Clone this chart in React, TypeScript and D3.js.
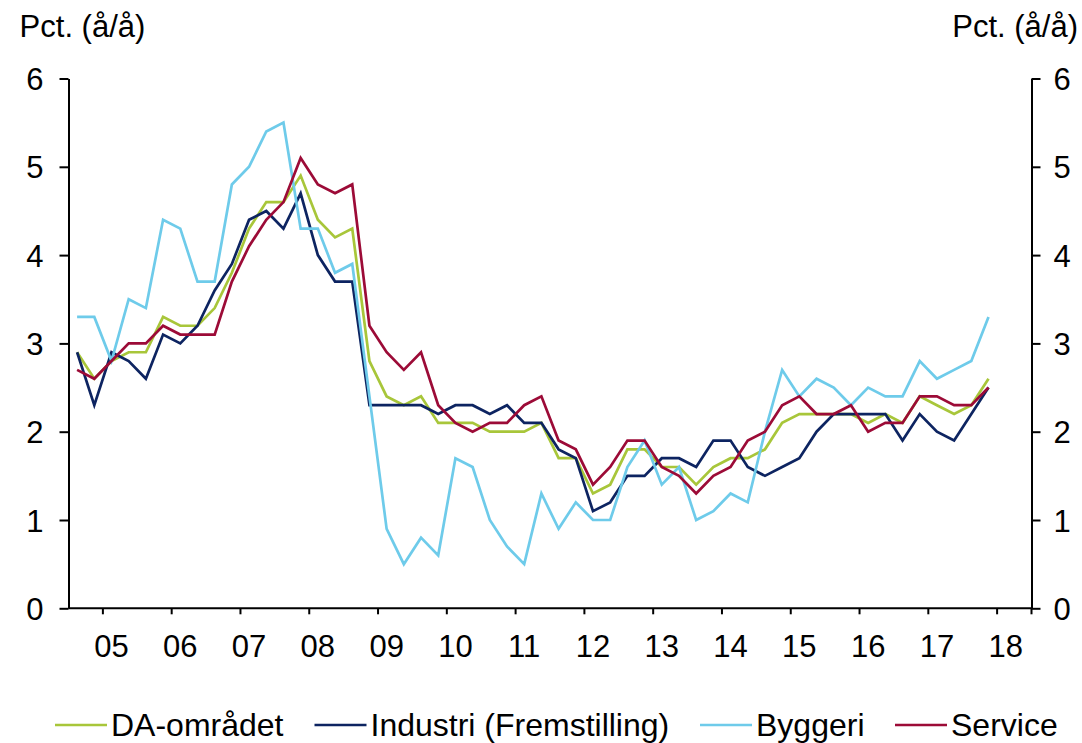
import React, { useEffect, useRef } from "react";
import * as d3 from "d3";

// kvartaler 2004K3 - 2018K2 (akse), data til 2017K4
const firstYear = 2004;
const firstQuarter = 3;
const quarterCount = 56;
const quarters: string[] = [];
for (let i = 0; i < quarterCount; i++) {
  const q = ((firstQuarter - 1 + i) % 4) + 1;
  const yr = firstYear + Math.floor((firstQuarter - 1 + i) / 4);
  quarters.push(`${yr}K${q}`);
}

const yearLabels = ["05", "06", "07", "08", "09", "10", "11", "12", "13", "14", "15", "16", "17", "18"];
const yTicks = [0, 1, 2, 3, 4, 5, 6];

const daOmraadet = [
  2.9, 2.6, 2.8, 2.9, 2.9, 3.3, 3.2, 3.2, 3.4, 3.8, 4.3, 4.6, 4.6, 4.9, 4.4, 4.2, 4.3, 2.8,
  2.4, 2.3, 2.4, 2.1, 2.1, 2.1, 2.0, 2.0, 2.0, 2.1, 1.7, 1.7, 1.3, 1.4, 1.8, 1.8, 1.6, 1.6,
  1.4, 1.6, 1.7, 1.7, 1.8, 2.1, 2.2, 2.2, 2.2, 2.2, 2.1, 2.2, 2.1, 2.4, 2.3, 2.2, 2.3, 2.6,
];
const industri = [
  2.9, 2.3, 2.9, 2.8, 2.6, 3.1, 3.0, 3.2, 3.6, 3.9, 4.4, 4.5, 4.3, 4.7, 4.0, 3.7, 3.7, 2.3,
  2.3, 2.3, 2.3, 2.2, 2.3, 2.3, 2.2, 2.3, 2.1, 2.1, 1.8, 1.7, 1.1, 1.2, 1.5, 1.5, 1.7, 1.7,
  1.6, 1.9, 1.9, 1.6, 1.5, 1.6, 1.7, 2.0, 2.2, 2.2, 2.2, 2.2, 1.9, 2.2, 2.0, 1.9, 2.2, 2.5,
];
const byggeri = [
  3.3, 3.3, 2.8, 3.5, 3.4, 4.4, 4.3, 3.7, 3.7, 4.8, 5.0, 5.4, 5.5, 4.3, 4.3, 3.8, 3.9, 2.4,
  0.9, 0.5, 0.8, 0.6, 1.7, 1.6, 1.0, 0.7, 0.5, 1.3, 0.9, 1.2, 1.0, 1.0, 1.6, 1.9, 1.4, 1.6,
  1.0, 1.1, 1.3, 1.2, 2.0, 2.7, 2.4, 2.6, 2.5, 2.3, 2.5, 2.4, 2.4, 2.8, 2.6, 2.7, 2.8, 3.3,
];
const service = [
  2.7, 2.6, 2.8, 3.0, 3.0, 3.2, 3.1, 3.1, 3.1, 3.7, 4.1, 4.4, 4.6, 5.1, 4.8, 4.7, 4.8, 3.2,
  2.9, 2.7, 2.9, 2.3, 2.1, 2.0, 2.1, 2.1, 2.3, 2.4, 1.9, 1.8, 1.4, 1.6, 1.9, 1.9, 1.6, 1.5,
  1.3, 1.5, 1.6, 1.9, 2.0, 2.3, 2.4, 2.2, 2.2, 2.3, 2.0, 2.1, 2.1, 2.4, 2.4, 2.3, 2.3, 2.5,
];

const seriesNames = ["DA-området", "Industri (Fremstilling)", "Byggeri", "Service"];
const seriesColors = ["#a8c63a", "#0d2461", "#6ecbea", "#9c0b37"];
const seriesValues = [daOmraadet, industri, byggeri, service];

const W = 1082;
const H = 743;
const FONT = "'Liberation Sans', Arial, sans-serif";

const App = () => {
  const ref = useRef<SVGSVGElement>(null);

  useEffect(() => {
    const svg = d3.select(ref.current);
    svg.selectAll("*").remove();

    const left = 68.5;
    const right = 1031.5;
    const top = 78.5;
    const bottom = 608.3;

    const x = d3.scaleBand<string>().domain(quarters).range([left, right]).padding(0);
    const y = d3.scaleLinear().domain([0, 6]).range([bottom, top]);
    const bw = x.bandwidth();

    // y-akser
    const yLeft = d3.axisLeft(y).tickValues(yTicks).tickSize(9).tickSizeOuter(0).tickPadding(16)
      .tickFormat(d3.format("d"));
    const yRight = d3.axisRight(y).tickValues(yTicks).tickSize(9).tickSizeOuter(0).tickPadding(13)
      .tickFormat(d3.format("d"));

    [
      { axis: yLeft, xPos: left },
      { axis: yRight, xPos: right },
    ].forEach(({ axis, xPos }) => {
      const g = svg.append("g").attr("transform", `translate(${xPos},0)`).call(axis as any);
      g.selectAll("path, line").attr("stroke", "#000").attr("stroke-width", 2);
      g.selectAll("text")
        .attr("font-family", FONT)
        .attr("font-size", 31)
        .attr("fill", "#000")
        .attr("dy", "0.36em");
    });

    // x-akse
    const xg = svg.append("g");
    xg.append("line")
      .attr("x1", left).attr("x2", right)
      .attr("y1", bottom).attr("y2", bottom)
      .attr("stroke", "#000").attr("stroke-width", 2);
    const q1 = quarters.filter((q) => q.endsWith("K1"));
    xg.selectAll("line.tick")
      .data([...q1.map((q) => x(q)!), right])
      .enter()
      .append("line")
      .attr("class", "tick")
      .attr("x1", (d) => d).attr("x2", (d) => d)
      .attr("y1", bottom).attr("y2", bottom + 6)
      .attr("stroke", "#000").attr("stroke-width", 2);
    xg.selectAll("text")
      .data(q1)
      .enter()
      .append("text")
      .attr("x", (q) => x(q)! + bw / 2)
      .attr("y", 657)
      .attr("text-anchor", "middle")
      .attr("font-family", FONT)
      .attr("font-size", 31)
      .text((_, i) => yearLabels[i]);

    // linjer
    const line = d3.line<number>()
      .x((_, i) => x(quarters[i])! + bw / 2)
      .y((d) => y(d));

    seriesValues.forEach((vals, s) => {
      svg.append("path")
        .datum(vals)
        .attr("d", line)
        .attr("fill", "none")
        .attr("stroke", seriesColors[s])
        .attr("stroke-width", 2.7)
        .attr("stroke-linejoin", "miter");
    });

    // enhed
    svg.append("text").attr("x", 19.6).attr("y", 37.3)
      .attr("font-family", FONT).attr("font-size", 31).text("Pct. (å/å)");
    svg.append("text").attr("x", 1078).attr("y", 37.3).attr("text-anchor", "end")
      .attr("font-family", FONT).attr("font-size", 31).text("Pct. (å/å)");

    // legende
    const legendX = [55, 314.5, 700, 895];
    const lg = svg.append("g");
    seriesNames.forEach((name, s) => {
      lg.append("line")
        .attr("x1", legendX[s]).attr("x2", legendX[s] + 52)
        .attr("y1", 725).attr("y2", 725)
        .attr("stroke", seriesColors[s]).attr("stroke-width", 2.7);
      lg.append("text")
        .attr("x", legendX[s] + 56)
        .attr("y", 736)
        .attr("font-family", FONT)
        .attr("font-size", 32)
        .text(name);
    });
  }, []);

  return (
    <svg
      ref={ref}
      width={W}
      height={H}
      style={{ position: "absolute", left: 0, top: 0, background: "#fff" }}
    />
  );
};

export default App;
